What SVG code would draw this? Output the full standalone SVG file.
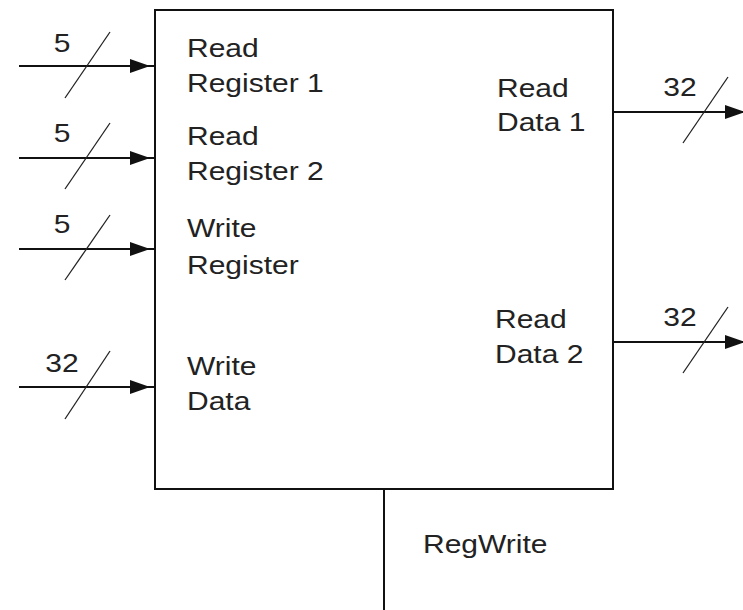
<svg xmlns="http://www.w3.org/2000/svg" width="743" height="610" viewBox="0 0 743 610">
<style>
.ln{stroke:#111;stroke-width:2;fill:none}
.sl{stroke:#222;stroke-width:1.3;fill:none}
.t{font-family:"Liberation Sans",Arial,sans-serif;font-size:25px;fill:#222}
</style>
<defs>
<path id="ah" d="M-20,-7 L0,0 L-20,7 Z" fill="#111"/>
</defs>
<rect width="743" height="610" fill="#fff"/>
<g id="register-file">
<rect x="155" y="10" width="458" height="479" class="ln"/>
<text class="t" transform="translate(187,57) scale(1.2,1)">Read</text>
<text class="t" transform="translate(187,92) scale(1.2,1)">Register 1</text>
<text class="t" transform="translate(187,145) scale(1.2,1)">Read</text>
<text class="t" transform="translate(187,180) scale(1.2,1)">Register 2</text>
<text class="t" transform="translate(187,237) scale(1.2,1)">Write</text>
<text class="t" transform="translate(187,274) scale(1.2,1)">Register</text>
<text class="t" transform="translate(187,375) scale(1.2,1)">Write</text>
<text class="t" transform="translate(187,410) scale(1.2,1)">Data</text>
<text class="t" transform="translate(497,97) scale(1.2,1)">Read</text>
<text class="t" transform="translate(497,131) scale(1.2,1)">Data 1</text>
<text class="t" transform="translate(495,328) scale(1.2,1)">Read</text>
<text class="t" transform="translate(495,363) scale(1.2,1)">Data 2</text>
</g>
<g id="connectors">
<line x1="19" y1="66" x2="155" y2="66" class="ln"/>
<use href="#ah" transform="translate(150,66)"/>
<line x1="65" y1="98" x2="110" y2="32" class="sl"/>
<line x1="19" y1="158" x2="155" y2="158" class="ln"/>
<use href="#ah" transform="translate(150,158)"/>
<line x1="65" y1="189" x2="110" y2="123" class="sl"/>
<line x1="19" y1="249" x2="155" y2="249" class="ln"/>
<use href="#ah" transform="translate(150,249)"/>
<line x1="65" y1="280" x2="110" y2="215" class="sl"/>
<line x1="19" y1="387" x2="155" y2="387" class="ln"/>
<use href="#ah" transform="translate(150,387)"/>
<line x1="65" y1="419" x2="110" y2="351" class="sl"/>
<line x1="613" y1="112" x2="743" y2="112" class="ln"/>
<use href="#ah" transform="translate(745,112)"/>
<line x1="683" y1="143" x2="728" y2="77" class="sl"/>
<line x1="613" y1="342" x2="743" y2="342" class="ln"/>
<use href="#ah" transform="translate(745,342)"/>
<line x1="683" y1="373" x2="728" y2="307" class="sl"/>
<line x1="384" y1="489" x2="384" y2="610" class="ln"/>
</g>
<g id="labels">
<text class="t" text-anchor="middle" transform="translate(62,52) scale(1.2,1)">5</text>
<text class="t" text-anchor="middle" transform="translate(62,142) scale(1.2,1)">5</text>
<text class="t" text-anchor="middle" transform="translate(62,233) scale(1.2,1)">5</text>
<text class="t" text-anchor="middle" transform="translate(62,372) scale(1.2,1)">32</text>
<text class="t" text-anchor="middle" transform="translate(680,96) scale(1.2,1)">32</text>
<text class="t" text-anchor="middle" transform="translate(680,326) scale(1.2,1)">32</text>
<text class="t" transform="translate(423,553) scale(1.2,1)">RegWrite</text>
</g>
</svg>
